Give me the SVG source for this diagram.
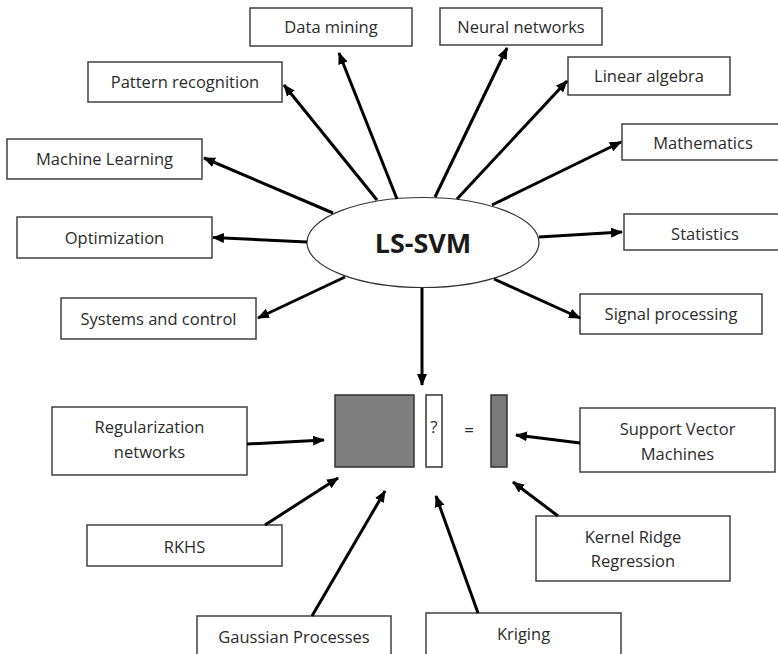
<svg xmlns="http://www.w3.org/2000/svg" width="778" height="654" viewBox="0 0 778 654">
<style>
.box{fill:#fff;stroke:#404040;stroke-width:1.5}
.t{font-family:"Open Sans","Liberation Sans",sans-serif;font-size:16.5px;fill:#2b2b2b;text-anchor:middle}
.c{stroke:#000;stroke-width:3;fill:none;marker-end:url(#ah)}
</style>
<defs>
<marker id="ah" markerUnits="userSpaceOnUse" markerWidth="13" markerHeight="11" refX="11" refY="5" orient="auto">
<path d="M0,0 L12,5 L0,10 z" fill="#000"/>
</marker>
</defs>
<rect width="778" height="654" fill="#fff"/>
<g id="lssvm">
<ellipse cx="423" cy="242.5" rx="116" ry="45" fill="#fff" stroke="#333" stroke-width="1.2"/>
<text x="423" y="252.5" style="font-family:'Open Sans','Liberation Sans',sans-serif;font-size:27px;font-weight:bold;fill:#1a1a1a;text-anchor:middle">LS-SVM</text>
</g>
<g id="data-mining"><rect class="box" x="250" y="8" width="162" height="38"/><text class="t" x="331" y="33">Data mining</text></g>
<g id="neural-networks"><rect class="box" x="440" y="8" width="162" height="37"/><text class="t" x="521" y="33">Neural networks</text></g>
<g id="pattern-recognition"><rect class="box" x="88" y="62" width="194" height="40"/><text class="t" x="185" y="88">Pattern recognition</text></g>
<g id="linear-algebra"><rect class="box" x="568" y="57" width="162" height="38"/><text class="t" x="649" y="82">Linear algebra</text></g>
<g id="machine-learning"><rect class="box" x="7" y="139" width="195" height="40"/><text class="t" x="104.5" y="165">Machine Learning</text></g>
<g id="mathematics"><rect class="box" x="622" y="124" width="164" height="36"/><text class="t" x="703" y="148.5">Mathematics</text></g>
<g id="optimization"><rect class="box" x="17" y="217" width="195" height="41"/><text class="t" x="114.5" y="244">Optimization</text></g>
<g id="statistics"><rect class="box" x="624" y="214" width="162" height="36"/><text class="t" x="705" y="240">Statistics</text></g>
<g id="systems-control"><rect class="box" x="61" y="298" width="195" height="41"/><text class="t" x="158.5" y="324.5">Systems and control</text></g>
<g id="signal-processing"><rect class="box" x="580" y="294" width="182" height="40"/><text class="t" x="671" y="320">Signal processing</text></g>
<g id="matrix">
<rect x="335" y="395" width="79" height="72" fill="#7f7f7f" stroke="#333" stroke-width="1.5"/>
<rect x="426" y="395" width="16" height="72" fill="#fff" stroke="#333" stroke-width="1.5"/>
<text x="434" y="433" style="font-family:'Open Sans','Liberation Sans',sans-serif;font-size:17px;fill:#2b2b2b;text-anchor:middle">?</text>
<text x="469" y="436" style="font-family:'Open Sans','Liberation Sans',sans-serif;font-size:17px;fill:#2b2b2b;text-anchor:middle">=</text>
<rect x="491" y="395" width="16" height="72" fill="#7a7a7a" stroke="#333" stroke-width="1.5"/>
</g>
<g id="regularization-networks"><rect class="box" x="52" y="407" width="195" height="68"/><text class="t" x="149.5" y="433">Regularization</text><text class="t" x="149.5" y="458">networks</text></g>
<g id="support-vector-machines"><rect class="box" x="580" y="408" width="195" height="64"/><text class="t" x="677.5" y="435">Support Vector</text><text class="t" x="677.5" y="460">Machines</text></g>
<g id="rkhs"><rect class="box" x="87" y="525" width="195" height="41"/><text class="t" x="184.5" y="552.5">RKHS</text></g>
<g id="kernel-ridge-regression"><rect class="box" x="536" y="516" width="194" height="65"/><text class="t" x="633" y="543">Kernel Ridge</text><text class="t" x="633" y="567">Regression</text></g>
<g id="gaussian-processes"><rect class="box" x="197" y="616" width="194" height="40"/><text class="t" x="294" y="643">Gaussian Processes</text></g>
<g id="kriging"><rect class="box" x="426" y="613" width="195" height="43"/><text class="t" x="523.5" y="640">Kriging</text></g>
<g id="connectors">
<line class="c" x1="397" y1="199" x2="339" y2="53"/>
<line class="c" x1="377" y1="200" x2="284" y2="85"/>
<line class="c" x1="333" y1="213" x2="204" y2="158"/>
<line class="c" x1="307" y1="242" x2="213" y2="237.5"/>
<line class="c" x1="345" y1="277" x2="258" y2="318"/>
<line class="c" x1="435" y1="197" x2="507" y2="48"/>
<line class="c" x1="457" y1="199" x2="567" y2="81"/>
<line class="c" x1="492" y1="205" x2="621" y2="142"/>
<line class="c" x1="539" y1="237" x2="622" y2="232"/>
<line class="c" x1="494" y1="279" x2="580" y2="318"/>
<line class="c" x1="422" y1="288" x2="422" y2="385"/>
<line class="c" x1="247" y1="444" x2="324" y2="440"/>
<line class="c" x1="265" y1="525" x2="338" y2="478"/>
<line class="c" x1="312" y1="616" x2="385" y2="491"/>
<line class="c" x1="478" y1="613" x2="436" y2="496"/>
<line class="c" x1="558" y1="516" x2="513" y2="482"/>
<line class="c" x1="580" y1="443" x2="516" y2="435"/>
</g>
</svg>
